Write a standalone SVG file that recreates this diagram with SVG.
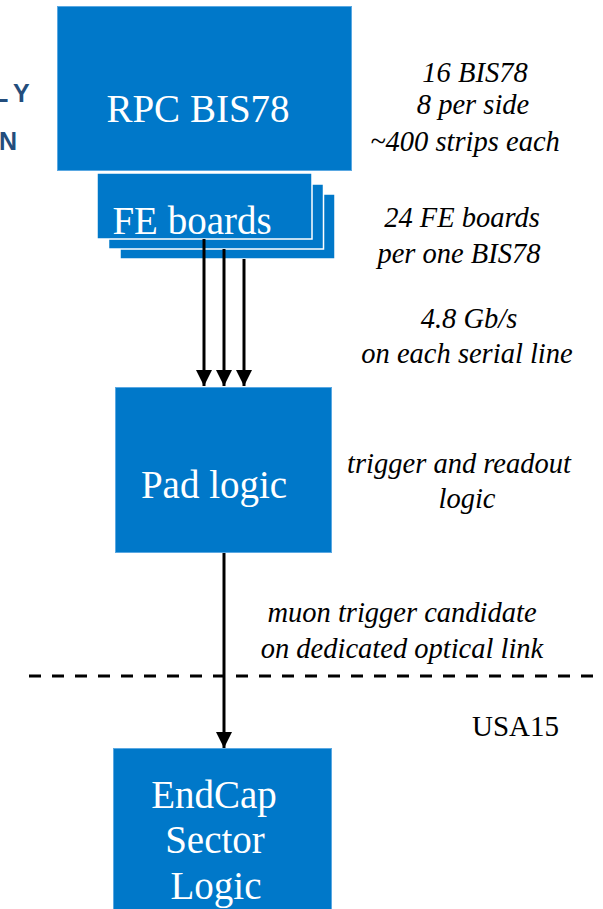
<svg xmlns="http://www.w3.org/2000/svg" width="603" height="909" viewBox="0 0 603 909">
  <defs>
    <style>
      .box { fill: #0078C9; stroke: #5AA8E2; stroke-width: 1; }
      .stack { fill: #0078C9; stroke: #FFFFFF; stroke-width: 1.5; }
      .serif { font-family: "Liberation Serif", Tinos, "Times New Roman", "DejaVu Serif", serif; }
      .label { fill: #FFFFFF; font-size: 39px; text-anchor: middle; }
      .note { font-style: italic; fill: #000000; font-size: 28.5px; text-anchor: middle; }
      .plain { fill: #000000; font-size: 29px; }
      .edge { font-family: "Liberation Sans", Arial, sans-serif; font-weight: bold; fill: #234D7C; font-size: 25px; }
      .wire { stroke: #000000; stroke-width: 3; fill: none; }
    </style>
    <marker id="head" viewBox="0 0 16 16" refX="16" refY="8" markerWidth="16" markerHeight="16" markerUnits="userSpaceOnUse" orient="auto">
      <path d="M0,0 L16,8 L0,16 Z" fill="#000000"/>
    </marker>
  </defs>

  <rect width="603" height="909" fill="#FFFFFF"/>

  <!-- partially visible heading letters at the left edge -->
  <text class="edge" x="-7 13" y="102">LY</text>
  <text class="edge" x="-1" y="150">N</text>

  <!-- divider between areas -->
  <line x1="29" y1="676" x2="600" y2="676" stroke="#000000" stroke-width="3" stroke-dasharray="12 11"/>

  <g id="rpc">
    <rect class="box" x="57.5" y="6.5" width="294" height="164"/>
    <text class="serif label" x="198" y="122">RPC BIS78</text>
  </g>

  <g id="fe-boards">
    <rect class="stack" x="120" y="194" width="215" height="65"/>
    <rect class="stack" x="108.5" y="184" width="215" height="65"/>
    <rect class="stack" x="97" y="173" width="215" height="66"/>
    <text class="serif label" x="192" y="234">FE boards</text>
  </g>

  <g id="pad-logic">
    <rect class="box" x="115.5" y="387.5" width="216" height="165"/>
    <text class="serif label" x="214" y="498">Pad logic</text>
  </g>

  <g id="sector-logic">
    <rect class="box" x="113.5" y="748.5" width="218" height="170"/>
    <text class="serif label" x="214" y="808">EndCap</text>
    <text class="serif label" x="215" y="853">Sector</text>
    <text class="serif label" x="216" y="899">Logic</text>
  </g>

  <g id="notes">
    <text class="serif note" x="475" y="82">16 BIS78</text>
    <text class="serif note" x="473" y="114">8 per side</text>
    <text class="serif note" x="465" y="151">~400 strips each</text>
    <text class="serif note" x="462" y="227">24 FE boards</text>
    <text class="serif note" x="459" y="263">per one BIS78</text>
    <text class="serif note" x="469" y="328">4.8 Gb/s</text>
    <text class="serif note" x="467" y="363">on each serial line</text>
    <text class="serif note" x="459" y="473">trigger and readout</text>
    <text class="serif note" x="467" y="508">logic</text>
    <text class="serif note" x="402" y="622">muon trigger candidate</text>
    <text class="serif note" x="402" y="658">on dedicated optical link</text>
    <text class="serif plain" x="472" y="736">USA15</text>
  </g>

  <g id="connectors">
    <line class="wire" x1="204" y1="239" x2="204" y2="386" marker-end="url(#head)"/>
    <line class="wire" x1="224" y1="249" x2="224" y2="386" marker-end="url(#head)"/>
    <line class="wire" x1="244" y1="259" x2="244" y2="386" marker-end="url(#head)"/>
    <line class="wire" x1="224" y1="553" x2="224" y2="748" marker-end="url(#head)"/>
  </g>
</svg>
